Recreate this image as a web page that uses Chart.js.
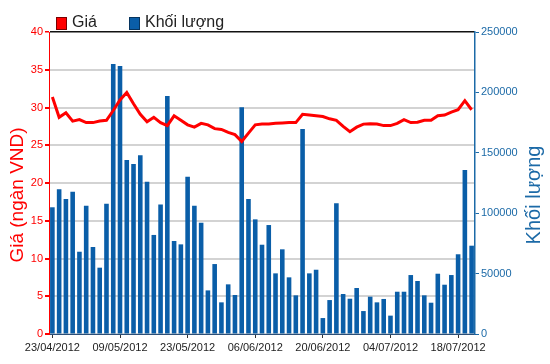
<!DOCTYPE html>
<html>
<head>
<meta charset="utf-8">
<title>Giá - Khối lượng</title>
<script src="https://cdn.jsdelivr.net/npm/chart.js@4/dist/chart.umd.min.js"></script>
<style>
  html, body { margin: 0; padding: 0; background: #fff; }
  #wrap { width: 550px; height: 364px; }
</style>
</head>
<body>
<div id="wrap"><canvas id="chart" width="550" height="364"></canvas></div>
<script>
// Trading days (categories)
const dates = [
  '23/04/2012','24/04/2012','25/04/2012','26/04/2012','27/04/2012',
  '02/05/2012','03/05/2012','04/05/2012','07/05/2012','08/05/2012',
  '09/05/2012','10/05/2012','11/05/2012','14/05/2012','15/05/2012',
  '16/05/2012','17/05/2012','18/05/2012','21/05/2012','22/05/2012',
  '23/05/2012','24/05/2012','25/05/2012','28/05/2012','29/05/2012',
  '30/05/2012','31/05/2012','01/06/2012','04/06/2012','05/06/2012',
  '06/06/2012','07/06/2012','08/06/2012','11/06/2012','12/06/2012',
  '13/06/2012','14/06/2012','15/06/2012','18/06/2012','19/06/2012',
  '20/06/2012','21/06/2012','22/06/2012','25/06/2012','26/06/2012',
  '27/06/2012','28/06/2012','29/06/2012','02/07/2012','03/07/2012',
  '04/07/2012','05/07/2012','06/07/2012','09/07/2012','10/07/2012',
  '11/07/2012','12/07/2012','13/07/2012','16/07/2012','17/07/2012',
  '18/07/2012','19/07/2012','20/07/2012'
];

// Giá (ngàn VND)
const prices = [
  31.4, 28.7, 29.3, 28.2, 28.4, 28.0, 28.0, 28.2, 28.3, 29.6,
  31.0, 32.0, 30.5, 29.1, 28.1, 28.7, 28.0, 27.6, 28.9, 28.3,
  27.7, 27.4, 27.9, 27.7, 27.2, 27.1, 26.7, 26.4, 25.5, 26.6,
  27.7, 27.8, 27.8, 27.9, 27.95, 28.0, 28.0, 29.1, 29.0, 28.9,
  28.8, 28.5, 28.3, 27.5, 26.8, 27.4, 27.8, 27.85, 27.8, 27.6,
  27.6, 27.9, 28.4, 28.0, 28.05, 28.3, 28.3, 28.9, 29.0, 29.4,
  29.7, 30.9, 29.7
];

// Khối lượng
const volumes = [
  104900, 119800, 111800, 117800, 68100, 106200, 72000, 54900, 107900, 223500,
  221800, 144000, 140700, 147900, 126100, 82000, 107300, 197000, 77000, 74200,
  130200, 106200, 92100, 36100, 57900, 26200, 41100, 32300, 187700, 111800,
  94900, 73900, 90200, 50200, 70100, 46900, 32000, 169700, 50200, 53200,
  13200, 28100, 108200, 33100, 29200, 38100, 19000, 30900, 26200, 29000,
  15200, 35000, 35000, 48800, 43900, 32000, 25900, 49900, 40800, 48800,
  66000, 135800, 73100
];

// Axis ranges
const priceTicks = { min: 0, max: 40, step: 5 };
const volumeTicks = { min: 0, max: 250000, step: 50000 };
const labelEvery = 10;

const colors = {
  price: '#ff0000',
  volume: '#0a5ea8',
  volumeAxis: '#1c6aa7',
  grid: '#d3d3d3',
  frame: '#111111',
  text: '#222222'
};
const fontFamily = "'Liberation Sans', Arial, sans-serif";

// Legend + rotated axis titles drawn on the canvas
const decorPlugin = {
  id: 'decor',
  afterDraw(chart) {
    const ctx = chart.ctx;
    ctx.save();

    // legend
    ctx.font = '16px ' + fontFamily;
    ctx.textBaseline = 'middle';
    ctx.lineWidth = 1;
    ctx.fillStyle = colors.price;
    ctx.fillRect(56, 17, 10, 12);
    ctx.strokeStyle = '#7a0000';
    ctx.strokeRect(56.5, 17.5, 10, 12);
    ctx.fillStyle = colors.text;
    ctx.fillText('Giá', 72, 23);

    ctx.fillStyle = colors.volume;
    ctx.fillRect(129, 17, 10, 12);
    ctx.strokeStyle = '#06345e';
    ctx.strokeRect(129.5, 17.5, 10, 12);
    ctx.fillStyle = colors.text;
    ctx.fillText('Khối lượng', 145, 23);

    // left title
    ctx.font = '19px ' + fontFamily;
    ctx.textAlign = 'center';
    ctx.translate(18, 195);
    ctx.rotate(-Math.PI / 2);
    ctx.fillStyle = colors.price;
    ctx.fillText('Giá (ngàn VND)', 0, 0);
    ctx.restore();

    // right title
    ctx.save();
    ctx.font = '20px ' + fontFamily;
    ctx.textAlign = 'center';
    ctx.textBaseline = 'middle';
    ctx.translate(534, 195);
    ctx.rotate(-Math.PI / 2);
    ctx.fillStyle = colors.volumeAxis;
    ctx.fillText('Khối lượng', 0, 0);
    ctx.restore();
  }
};

const ctx = document.getElementById('chart');

new Chart(ctx, {
  data: {
    labels: dates,
    datasets: [
      {
        type: 'line',
        label: 'Giá',
        data: prices,
        yAxisID: 'yPrice',
        borderColor: colors.price,
        borderWidth: 3,
        pointRadius: 0,
        tension: 0,
        order: 0
      },
      {
        type: 'bar',
        label: 'Khối lượng',
        data: volumes,
        yAxisID: 'yVolume',
        backgroundColor: colors.volume,
        borderWidth: 0,
        categoryPercentage: 1,
        barPercentage: 0.68,
        order: 1
      }
    ]
  },
  options: {
    responsive: false,
    animation: false,
    layout: { padding: { top: 32, left: 0, right: 0, bottom: 0 } },
    plugins: {
      legend: { display: false },
      title: { display: false },
      tooltip: { enabled: false }
    },
    scales: {
      x: {
        offset: true,
        grid: {
          offset: false,
          drawOnChartArea: false,
          drawTicks: true,
          tickLength: 4,
          tickColor: '#333'
        },
        border: { color: '#2c4f78', width: 1 },
        ticks: {
          autoSkip: false,
          maxRotation: 0,
          padding: 3,
          color: colors.text,
          font: { family: fontFamily, size: 11 },
          callback: function (value, index) {
            return index % labelEvery === 0 ? this.getLabelForValue(value) : null;
          }
        },
        afterFit: (scale) => { scale.height = 30; }
      },
      yPrice: {
        position: 'left',
        min: priceTicks.min,
        max: priceTicks.max,
        grid: {
          color: (c) => (c.tick && c.tick.value === priceTicks.max ? colors.frame : colors.grid),
          lineWidth: (c) => (c.tick && c.tick.value === priceTicks.max ? 1.5 : 2),
          tickColor: colors.price,
          tickLength: 4
        },
        border: { color: colors.price, width: 1 },
        ticks: {
          stepSize: priceTicks.step,
          padding: 2,
          color: colors.price,
          font: { family: fontFamily, size: 11 }
        },
        afterFit: (scale) => { scale.width = 49; }
      },
      yVolume: {
        position: 'right',
        min: volumeTicks.min,
        max: volumeTicks.max,
        grid: {
          drawOnChartArea: false,
          tickColor: colors.volumeAxis,
          tickLength: 4
        },
        border: { color: colors.volumeAxis, width: 1.5 },
        ticks: {
          stepSize: volumeTicks.step,
          padding: 2,
          color: colors.volumeAxis,
          font: { family: fontFamily, size: 11 },
          callback: (value) => String(value)
        },
        afterFit: (scale) => { scale.width = 75; }
      }
    }
  },
  plugins: [decorPlugin]
});
</script>
</body>
</html>
